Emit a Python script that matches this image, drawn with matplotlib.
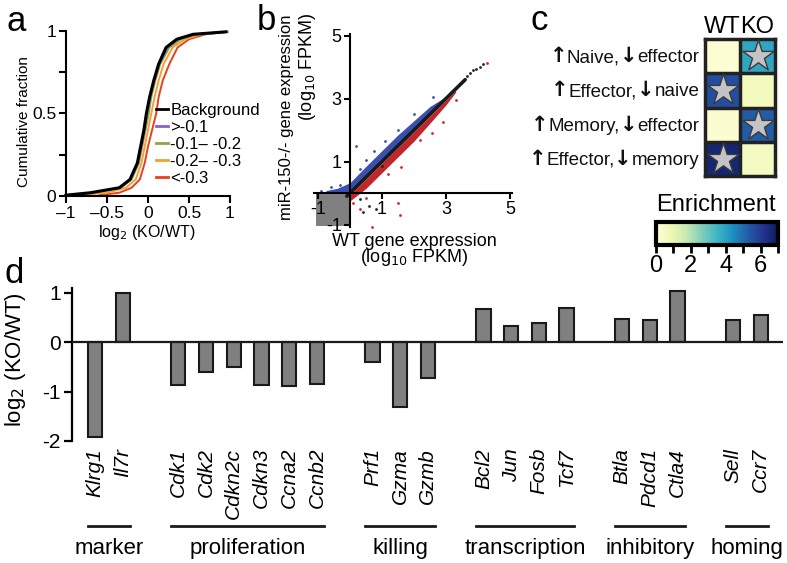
import numpy as np
import matplotlib
matplotlib.use("Agg")
import matplotlib.pyplot as plt
from matplotlib.patches import Rectangle
from matplotlib.offsetbox import TextArea, HPacker, AnnotationBbox

plt.rcParams['font.family'] = ['Liberation Sans', 'DejaVu Sans']
plt.rcParams['axes.unicode_minus'] = False

# ---------------- data ----------------
# panel a: cumulative distributions (x value reached at each cumulative level)
cdf_levels = [0.005, 0.02, 0.05, 0.1, 0.2, 0.3, 0.4, 0.5, 0.6, 0.7, 0.8, 0.9, 0.95, 0.98, 0.995]
cdf_background = [-1.0, -0.7, -0.35, -0.22, -0.13, -0.09, -0.05, -0.02, 0.02, 0.07, 0.13, 0.22, 0.35, 0.55, 0.95]
cdf_gt01 = [-0.95, -0.68, -0.34, -0.21, -0.12, -0.08, -0.04, -0.01, 0.03, 0.08, 0.14, 0.24, 0.37, 0.57, 0.95]
cdf_01_02 = [-0.95, -0.65, -0.33, -0.2, -0.11, -0.07, -0.03, 0.01, 0.04, 0.09, 0.15, 0.26, 0.4, 0.6, 0.97]
cdf_02_03 = [-0.85, -0.5, -0.27, -0.15, -0.08, -0.04, 0.0, 0.04, 0.08, 0.13, 0.19, 0.3, 0.45, 0.65, 0.97]
cdf_lt03 = [-0.6, -0.35, -0.2, -0.1, -0.04, 0.0, 0.05, 0.1, 0.13, 0.18, 0.26, 0.36, 0.5, 0.7, 0.97]
cdf_labels = ['Background', '>-0.1', '-0.1\u2013 -0.2', '-0.2\u2013 -0.3', '<-0.3']

# panel b: scatter (dense bands + individual points)
blue_band_x = [-0.75, -0.4, 0.0, 0.5, 1.0, 1.5, 2.0, 2.5, 2.9]
blue_band_lo = [0.0, 0.0, 0.05, 0.55, 1.05, 1.55, 2.05, 2.55, 2.95]
blue_band_hi = [0.08, 0.15, 0.33, 0.85, 1.35, 1.85, 2.3, 2.75, 3.0]
red_band_x = [0.0, 0.5, 1.0, 1.5, 2.0, 2.5, 3.0, 3.3]
red_band_hi = [-0.05, 0.45, 0.95, 1.45, 1.95, 2.45, 2.95, 3.25]
red_band_lo = [-0.25, 0.15, 0.65, 1.15, 1.65, 2.22, 2.8, 3.2]
diag_x = [-0.1, 3.6]
diag_y = [-0.1, 3.6]
blue_pts_x = [0.19, 0.5, 0.75, 1.1, 1.5, -0.9, -0.6, 0.3, 2.0, 2.6, -0.3]
blue_pts_y = [1.5, 1.05, 1.35, 1.65, 2.0, 0.08, 0.2, 0.75, 2.5, 3.05, 0.25]
red_pts_x = [0.1, 0.3, 0.5, 0.68, 1.5, 1.56, 1.6, 2.57, 2.9, 1.2, 4.28, 3.3, 2.2]
red_pts_y = [-0.3, -0.5, -0.15, -1.07, -0.3, -0.7, 0.83, 1.9, 2.26, 0.6, 4.12, 2.95, 1.7]
black_pts_x = [3.65, 3.75, 3.85, 3.95, 4.05, 4.15, 0.6, 0.8, 0.4, 1.0, 0.3]
black_pts_y = [3.7, 3.8, 3.9, 3.95, 4.0, 4.1, -0.4, -0.5, -0.6, 0.85, -0.2]
lowexpr_x = [-1.05, 0.0]
lowexpr_y = [-1.05, 0.0]

# panel c: enrichment heatmap
heat_rows = [('Naive,', 'effector'), ('Effector,', 'naive'),
             ('Memory,', 'effector'), ('Effector,', 'memory')]
heat_cols = ['WT', 'KO']
enrich_wt = [0.15, 5.6, 0.2, 6.6]
enrich_ko = [3.9, 0.6, 5.3, 0.5]
signif_wt = [False, True, False, True]
signif_ko = [True, False, True, False]

# panel d: bar chart
groups = ['marker', 'proliferation', 'killing', 'transcription', 'inhibitory', 'homing']
group_genes = [['Klrg1', 'Il7r'],
               ['Cdk1', 'Cdk2', 'Cdkn2c', 'Cdkn3', 'Ccna2', 'Ccnb2'],
               ['Prf1', 'Gzma', 'Gzmb'],
               ['Bcl2', 'Jun', 'Fosb', 'Tcf7'],
               ['Btla', 'Pdcd1', 'Ctla4'],
               ['Sell', 'Ccr7']]
group_vals = [[-1.92, 1.0],
              [-0.86, -0.6, -0.5, -0.86, -0.89, -0.84],
              [-0.4, -1.32, -0.72],
              [0.67, 0.34, 0.39, 0.7],
              [0.47, 0.45, 1.04],
              [0.45, 0.56]]

# ---------------- figure ----------------
W, H = 787, 563
fig = plt.figure(figsize=(W / 100, H / 100), dpi=100)


def ax_px(l, t, r, b):
    return fig.add_axes([l / W, 1 - b / H, (r - l) / W, (b - t) / H])


def ftext(x, y, s, **kw):
    return fig.text(x / W, 1 - y / H, s, **kw)


# ---- panel a ----
axa = ax_px(66, 31, 230, 196)
colors_a = ['black', '#8a5fd0', '#93a342', '#f5a030', '#e8401c']
series_a = [cdf_background, cdf_gt01, cdf_01_02, cdf_02_03, cdf_lt03]
lines = []
for i in [4, 3, 2, 1, 0]:
    ln, = axa.plot(series_a[i], cdf_levels, color=colors_a[i],
                   lw=2.2 if i == 0 else 1.4, clip_on=False)
    lines.append((i, ln))
lines.sort()
axa.set_xlim(-1, 1)
axa.set_ylim(0, 1)
for s in ['top', 'right']:
    axa.spines[s].set_visible(False)
for s in ['left', 'bottom']:
    axa.spines[s].set_linewidth(1.5)
axa.set_yticks([0, 0.25, 0.5, 0.75, 1])
axa.set_yticklabels(['0', '', '0.5', '', '1'])
axa.set_xticks([-1, -0.5, 0, 0.5, 1])
axa.set_xticklabels(['\u20131', '\u20130.5', '0', '0.5', '1'])
axa.tick_params(labelsize=12.5, width=1.5, length=5, pad=2)
ftext(24, 122, 'Cumulative fraction', rotation=90, ha='center', va='center', fontsize=11)
ftext(147, 233, 'log$_2$ (KO/WT)', ha='center', va='center', fontsize=11.5)
leg = axa.legend([ln for _, ln in lines], cdf_labels, loc='upper left',
                 bbox_to_anchor=(156 / W, 1 - 103 / H), bbox_transform=fig.transFigure,
                 frameon=False, fontsize=12, handlelength=0.7, handletextpad=0.15,
                 labelspacing=0.12, borderpad=0, borderaxespad=0)
for h in leg.legend_handles:
    h.set_linewidth(2)

# ---- panel b ----
axb = ax_px(311.6, 32.4, 513.2, 227.7)
axb.set_xlim(-1.2, 5.1)
axb.set_ylim(-1.1, 5.1)
axb.add_patch(Rectangle((lowexpr_x[0], lowexpr_y[0]), lowexpr_x[1] - lowexpr_x[0],
                        lowexpr_y[1] - lowexpr_y[0], facecolor='#808080', edgecolor='none', zorder=1))
axb.fill_between(blue_band_x, blue_band_lo, blue_band_hi, color='#3a4fb0', lw=0, zorder=2)
axb.fill_between(red_band_x, red_band_lo, red_band_hi, color='#c0262a', lw=0, zorder=2)
axb.plot(diag_x, diag_y, color='#1a1a1a', lw=2.6, zorder=3, solid_capstyle='round')
axb.scatter(blue_pts_x, blue_pts_y, s=4, color='#3a4fb0', zorder=3, lw=0)
axb.scatter(red_pts_x, red_pts_y, s=4, color='#d0282a', zorder=3, lw=0)
axb.scatter(black_pts_x, black_pts_y, s=4, color='#222222', zorder=3, lw=0)
for s in ['top', 'right']:
    axb.spines[s].set_visible(False)
axb.spines['left'].set_position(('data', 0))
axb.spines['bottom'].set_position(('data', 0))
axb.spines['left'].set_bounds(-1.08, 5.05)
axb.spines['bottom'].set_bounds(-1.12, 5.05)
for s in ['left', 'bottom']:
    axb.spines[s].set_linewidth(1.5)
    axb.spines[s].set_zorder(4)
axb.set_xticks([-1, 1, 3, 5])
axb.set_yticks([-1, 1, 3, 5])
axb.tick_params(labelsize=13, width=1.5, length=4, pad=2)
ftext(286, 117, 'miR-150-/- gene expression', rotation=90, ha='center', va='center', fontsize=12)
ftext(307, 67, '(log$_{10}$ FPKM)', rotation=90, ha='center', va='center', fontsize=13)
ftext(414, 241, 'WT gene expression', ha='center', va='center', fontsize=13)
ftext(414, 258, '(log$_{10}$ FPKM)', ha='center', va='center', fontsize=13)

# ---- panel c ----
axc = ax_px(705, 39, 775, 176)
heat = np.array([enrich_wt, enrich_ko]).T
im = axc.imshow(heat, cmap='YlGnBu', vmin=0, vmax=7, aspect='auto')
sig = np.array([signif_wt, signif_ko]).T
rr, cc = np.nonzero(sig)
axc.scatter(cc, rr, marker='*', s=560, facecolor='#c4c4c8', edgecolor='#3a3a3a', linewidth=1, zorder=3)
for k in range(1, 4):
    axc.axhline(k - 0.5, color='#222222', lw=2.5)
axc.axvline(0.5, color='#222222', lw=2.5)
for s in axc.spines.values():
    s.set_linewidth(2.5)
    s.set_color('#222222')
axc.set_xticks(range(2))
axc.set_xticklabels(heat_cols, fontsize=17)
axc.xaxis.tick_top()
axc.set_yticks([])
axc.tick_params(length=0, pad=1)
arrow_props = dict(fontsize=15, fontweight='bold', family='DejaVu Sans', color='#111111')
word_props = dict(fontsize=13.5, family='Liberation Sans', color='#111111')
for r, (up_word, down_word) in enumerate(heat_rows):
    pack = HPacker(children=[TextArea('\u2191', textprops=arrow_props),
                             TextArea(up_word, textprops=word_props),
                             TextArea('\u2193', textprops=arrow_props),
                             TextArea(down_word, textprops=word_props)],
                   align='baseline', pad=0, sep=0)
    ab = AnnotationBbox(pack, (0, r), xycoords=('axes fraction', 'data'),
                        xybox=(-4, 0), boxcoords='offset points',
                        box_alignment=(1, 0.5), frameon=False, pad=0,
                        annotation_clip=False)
    axc.add_artist(ab)

cax = ax_px(656, 222, 778, 245)
cb = fig.colorbar(im, cax=cax, orientation='horizontal')
cb.outline.set_linewidth(3)
cb.set_ticks([0, 2, 4, 6])
cb.ax.set_xticks([1, 3, 5, 7], minor=True)
cb.ax.tick_params(which='both', length=6, width=2, labelsize=17, pad=1)
ftext(716, 205, 'Enrichment', ha='center', va='center', fontsize=17)

# ---- panel d ----
axd = ax_px(72, 288, 783, 441)
positions, genes, vals, spans = [], [], [], []
pos = 0
for g, vs in zip(group_genes, group_vals):
    start = pos
    for gene, v in zip(g, vs):
        positions.append(pos)
        genes.append(gene)
        vals.append(v)
        pos += 1
    spans.append((start, pos - 1))
    pos += 1
bw = 0.52
axd.bar(positions, vals, width=bw, color='#808080', edgecolor='#1a1a1a', linewidth=1.5, zorder=2)
axd.axhline(0, color='#1a1a1a', lw=1.6, zorder=3)
axd.set_xlim(-0.83, 24.8)
axd.set_ylim(-2, 1.1)
for s in ['top', 'right', 'bottom']:
    axd.spines[s].set_visible(False)
axd.spines['left'].set_linewidth(1.6)
axd.set_yticks([-2, -1, 0, 1])
axd.tick_params(axis='y', labelsize=15, width=1.6, length=6, pad=2)
axd.set_xticks(positions)
axd.set_xticklabels(genes, rotation=90, fontstyle='italic', fontsize=15)
axd.tick_params(axis='x', length=0, pad=5)
tr = axd.get_xaxis_transform()
for (a, b), gname in zip(spans, groups):
    axd.plot([a - bw / 2, b + bw / 2], [-0.556, -0.556], transform=tr, color='#1a1a1a',
             lw=2, clip_on=False)
    axd.text((a + b) / 2, -0.70, gname, transform=tr, ha='center', va='center', fontsize=16)
ftext(16, 360, 'log$_2$ (KO/WT)', rotation=90, ha='center', va='center', fontsize=16)

# panel letters
for lx, ly, lt in [(7, 31, 'a'), (257, 30, 'b'), (530, 30, 'c'), (5, 283, 'd')]:
    ftext(lx, ly, lt, ha='left', va='baseline', fontsize=25)

fig.savefig('out.png', dpi=100)
